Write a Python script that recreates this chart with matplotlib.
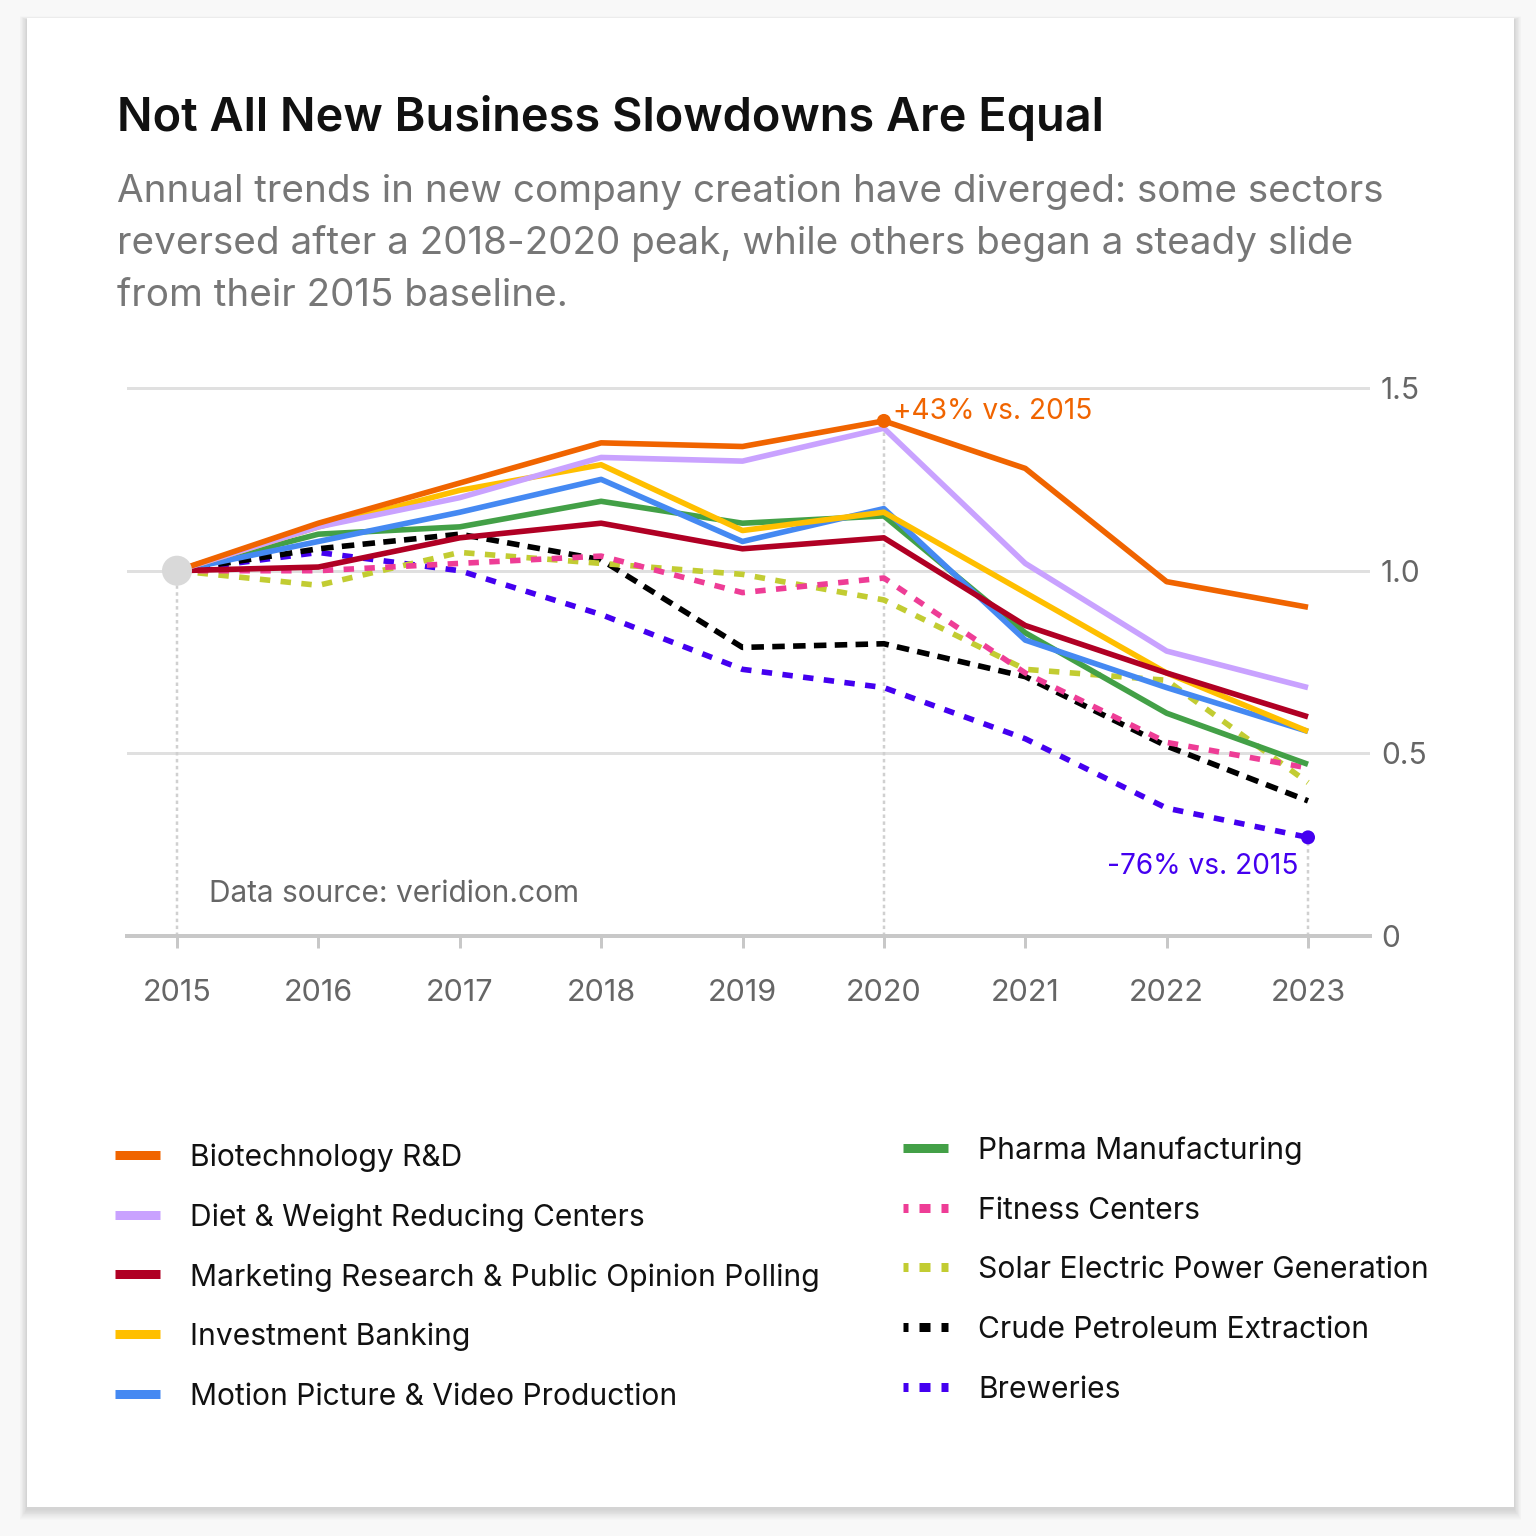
import matplotlib
matplotlib.use('Agg')
import matplotlib.pyplot as plt
from matplotlib.lines import Line2D
from matplotlib.patches import Rectangle

# ---------------- data ----------------
years = [2015, 2016, 2017, 2018, 2019, 2020, 2021, 2022, 2023]
year_labels = ["2015", "2016", "2017", "2018", "2019", "2020", "2021", "2022", "2023"]

biotech = [1.00, 1.13, 1.24, 1.35, 1.34, 1.41, 1.28, 0.97, 0.90]
diet = [1.00, 1.12, 1.20, 1.31, 1.30, 1.39, 1.02, 0.78, 0.68]
marketing = [1.00, 1.01, 1.09, 1.13, 1.06, 1.09, 0.85, 0.72, 0.60]
invest = [1.00, 1.12, 1.22, 1.29, 1.11, 1.16, 0.94, 0.72, 0.56]
motion = [1.00, 1.08, 1.16, 1.25, 1.08, 1.17, 0.81, 0.68, 0.56]
pharma = [1.00, 1.10, 1.12, 1.19, 1.13, 1.15, 0.83, 0.61, 0.47]
fitness = [1.00, 1.00, 1.02, 1.04, 0.94, 0.98, 0.72, 0.53, 0.46]
solar = [1.00, 0.96, 1.05, 1.02, 0.99, 0.92, 0.73, 0.70, 0.42]
crude = [1.00, 1.06, 1.10, 1.03, 0.79, 0.80, 0.71, 0.52, 0.37]
breweries = [1.00, 1.05, 1.00, 0.88, 0.73, 0.68, 0.54, 0.35, 0.27]

y_ticks = [0, 0.5, 1.0, 1.5]
y_tick_labels = ["0", "0.5", "1.0", "1.5"]

series_left = [
    ("Biotechnology R&D", biotech, "#f06400", None),
    ("Diet & Weight Reducing Centers", diet, "#c9a2ff", None),
    ("Marketing Research & Public Opinion Polling", marketing, "#b00024", None),
    ("Investment Banking", invest, "#ffbf00", None),
    ("Motion Picture & Video Production", motion, "#4589f2", None),
]
series_right = [
    ("Pharma Manufacturing", pharma, "#43a047", None),
    ("Fitness Centers", fitness, "#ee3d96", (7.5, 7.5)),
    ("Solar Electric Power Generation", solar, "#c2cc32", (7.5, 7.5)),
    ("Crude Petroleum Extraction", crude, "#000000", (9.0, 6.0)),
    ("Breweries", breweries, "#4400f0", (7.5, 7.5)),
]

title = "Not All New Business Slowdowns Are Equal"
subtitle_lines = [
    "Annual trends in new company creation have diverged: some sectors",
    "reversed after a 2018-2020 peak, while others began a steady slide",
    "from their 2015 baseline.",
]
source = "Data source: veridion.com"
peak_note = "+43% vs. 2015"
low_note = "-76% vs. 2015"

# ---------------- style ----------------
W = H = 1536
DPI = 100
PX = 72.0 / DPI  # points per pixel
plt.rcParams['font.family'] = ['Inter', 'DejaVu Sans']
plt.rcParams['lines.scale_dashes'] = False

fig = plt.figure(figsize=(W / DPI, H / DPI), dpi=DPI, facecolor='#f8f8f8')


def fx(x):
    return x / W


def fy(y):
    return 1 - y / H


# card with soft shadow
cx0, cy0, cx1, cy1 = 27, 18, 1514, 1507
for k in range(12, 0, -1):
    fig.patches.append(Rectangle((fx(cx0 - k * 0.6), fy(cy1 + k * 0.9 + 2)),
                                 (cx1 - cx0 + k * 1.2) / W, (cy1 - cy0 + k * 1.2) / H,
                                 transform=fig.transFigure, facecolor='#000000',
                                 alpha=0.010, edgecolor='none', zorder=-3))
fig.patches.append(Rectangle((fx(cx0), fy(cy1)), (cx1 - cx0) / W, (cy1 - cy0) / H,
                             transform=fig.transFigure, facecolor='white',
                             edgecolor='none', zorder=-2))

# title / subtitle
fig.text(fx(117), fy(131), title, fontsize=33.8, fontweight='semibold',
         color='#111111', va='baseline', ha='left')
for i, line in enumerate(subtitle_lines):
    fig.text(fx(117), fy(202 + 52 * i), line, fontsize=27.8, color='#777777',
             va='baseline', ha='left')

# axes
y_top = 1.6
ax_top_px = 936 - y_top * 365.3
ax = fig.add_axes([fx(127), fy(936), (1370 - 127) / W, (936 - ax_top_px) / H])
ax.set_zorder(2)
ax.set_facecolor('none')
ax.set_xlim(2015 - 50 / 141.4, 2023 + 62 / 141.4)
ax.set_ylim(0, y_top)

for s in ['top', 'left', 'right']:
    ax.spines[s].set_visible(False)
ax.spines['bottom'].set_color('#c8c8c8')
ax.spines['bottom'].set_linewidth(4 * PX)

ax.set_yticks(y_ticks)
ax.set_yticklabels(y_tick_labels)
ax.yaxis.tick_right()
ax.tick_params(axis='y', length=0, pad=11 * PX, labelsize=21.5, labelcolor='#666666')
ax.yaxis.grid(True, color='#e0e0e0', linewidth=3 * PX)
ax.set_axisbelow(True)

ax.set_xticks(years)
ax.set_xticklabels(year_labels)
ax.tick_params(axis='x', length=12 * PX, width=3 * PX, color='#c8c8c8',
               pad=31 * PX, labelsize=22, labelcolor='#666666')

# reference dotted verticals
ref_style = dict(color='#d0d0d0', linewidth=2.5 * PX, linestyle=(0, (2.5, 2.5)), zorder=1.5)
ax.plot([years[0], years[0]], [0, biotech[0]], **ref_style)
ax.plot([years[5], years[5]], [0, biotech[5]], **ref_style)
ax.plot([years[8], years[8]], [0, breweries[8]], **ref_style)

LW = 5.6 * PX
z = 10
for name, vals, col, dash in series_right[::-1] + series_left[::-1]:
    kw = dict(color=col, linewidth=LW, solid_joinstyle='round', zorder=z)
    if dash is not None:
        kw['linestyle'] = (0, dash)
        kw['dash_capstyle'] = 'butt'
    else:
        kw['solid_capstyle'] = 'butt'
    ax.plot(years, vals, **kw)
    z += 1

# markers
ax.scatter([years[0]], [biotech[0]], s=(30 * PX) ** 2, color='#d9d9d9', zorder=40,
           edgecolors='none')
ax.scatter([years[5]], [biotech[5]], s=(14 * PX) ** 2, color='#f06400', zorder=41,
           edgecolors='none')
ax.scatter([years[8]], [breweries[8]], s=(14 * PX) ** 2, color='#4400f0', zorder=41,
           edgecolors='none', clip_on=False)

ax.annotate(peak_note, (years[5], biotech[5]), xytext=(9 * PX, 9 * PX),
            textcoords='offset points', ha='left', va='center', fontsize=20.2,
            color='#f06400', zorder=42)
ax.annotate(low_note, (years[8], breweries[8]), xytext=(-10 * PX, -29 * PX),
            textcoords='offset points', ha='right', va='center', fontsize=20.2,
            color='#4400f0', zorder=42)

fig.text(fx(209), fy(894), source, fontsize=21.5, color='#666666', va='center', ha='left',
         zorder=5)

# legend (two columns)
def legend_item(x_handle, x_text, y, name, col, dash):
    kw = dict(color=col, linewidth=9 * PX, transform=fig.transFigure)
    if dash is not None:
        kw['linestyle'] = (6 * PX, (11 * PX, 11 * PX))
        kw['dash_capstyle'] = 'butt'
    else:
        kw['solid_capstyle'] = 'butt'
    fig.add_artist(Line2D([fx(x_handle), fx(x_handle + 45)], [fy(y), fy(y)], **kw))
    fig.text(fx(x_text), fy(y + 3), name, fontsize=21.6, color='#111111', va='center',
             ha='left')


for i, (name, vals, col, dash) in enumerate(series_left):
    legend_item(115, 190, 1155 + 59.7 * i, name, col, dash)
for i, (name, vals, col, dash) in enumerate(series_right):
    legend_item(903, 978, 1148 + 59.7 * i, name, col, dash)

fig.savefig('out.png', dpi=DPI, facecolor=fig.get_facecolor())
